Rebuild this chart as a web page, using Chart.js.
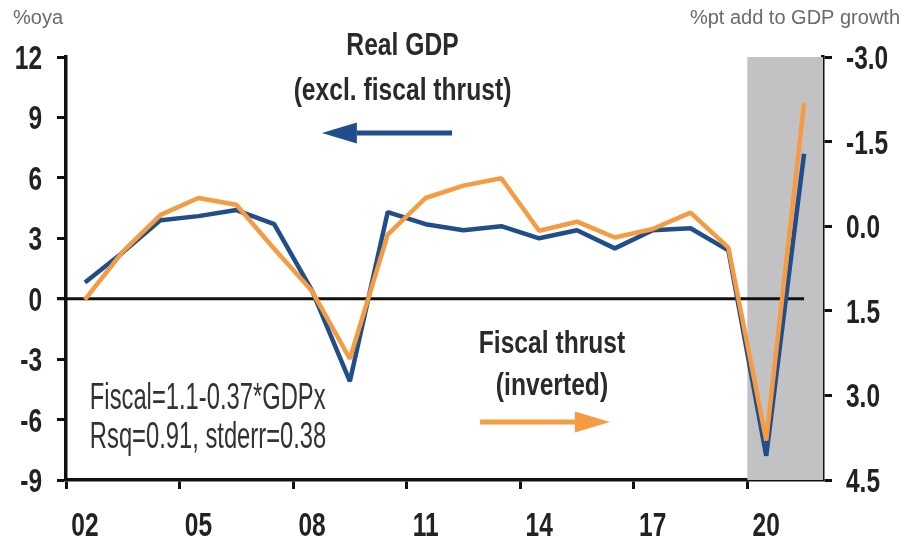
<!DOCTYPE html>
<html lang="en">
<head>
  <meta charset="UTF-8">
  <title>Real GDP vs fiscal thrust</title>
  <style>
    body {
      margin: 0;
      padding: 0;
      background: #ffffff;
    }
    canvas {
      display: block;
    }
  </style>
</head>
<body>
  <canvas id="gdpChart" width="904" height="542"></canvas>

  <script src="https://cdn.jsdelivr.net/npm/chart.js"></script>

  <script>
    // annual data, plotted at mid-year
    const years = [2002, 2003, 2004, 2005, 2006, 2007, 2008, 2009, 2010, 2011,
                   2012, 2013, 2014, 2015, 2016, 2017, 2018, 2019, 2020, 2021];
    // %oya, left axis
    const realGdpExFiscal = [0.8, 2.3, 3.9, 4.1, 4.4, 3.7, 0.4, -4.1, 4.3, 3.7,
                             3.4, 3.6, 3.0, 3.4, 2.5, 3.4, 3.5, 2.4, -7.8, 7.2];
    // %pt add to GDP growth, right axis (inverted)
    const fiscalThrust = [1.3, 0.45, -0.2, -0.5, -0.38, 0.4, 1.15, 2.35, 0.15, -0.5,
                          -0.72, -0.85, 0.08, -0.08, 0.2, 0.05, -0.24, 0.38, 3.8, -2.18];
    const xTickYears = [2002, 2005, 2008, 2011, 2014, 2017, 2020];
    const leftTicks = [-9, -6, -3, 0, 3, 6, 9, 12];
    const rightTicks = [-3.0, -1.5, 0.0, 1.5, 3.0, 4.5];
    const shadeFrom = 2020;

    const BLUE = '#1f4e8a';
    const ORANGE = '#f59b42';
    const SANS = '"Liberation Sans", Arial, sans-serif';

    const toPoints = vals => vals.map((v, i) => ({ x: years[i] + 0.5, y: v }));

    // squeezed text, to get the tall narrow look of the original
    function drawText(ctx, text, x, y, o) {
      ctx.save();
      ctx.translate(x, y);
      ctx.scale(o.sx || 1, 1);
      ctx.font = o.font;
      ctx.fillStyle = o.color || '#222';
      ctx.textAlign = o.align || 'left';
      ctx.textBaseline = 'alphabetic';
      ctx.fillText(text, 0, 0);
      ctx.restore();
    }

    function drawArrow(ctx, x0, y0, x1, y1, color) {
      const dir = Math.sign(x1 - x0);
      const head = 35;
      ctx.strokeStyle = color;
      ctx.fillStyle = color;
      ctx.lineWidth = 5;
      ctx.beginPath();
      ctx.moveTo(x0, y0);
      ctx.lineTo(x1 - dir * head, y1);
      ctx.stroke();
      ctx.beginPath();
      ctx.moveTo(x1, y1);
      ctx.lineTo(x1 - dir * head, y1 - 10.5);
      ctx.lineTo(x1 - dir * head, y1 + 10.5);
      ctx.closePath();
      ctx.fill();
    }

    const tickText = { font: 'bold 34px ' + SANS, sx: 0.72, color: '#222' };

    // shading, zero line, tick labels and text annotations
    const decorations = {
      id: 'decorations',
      beforeDatasetsDraw(chart) {
        const { ctx, chartArea, scales } = chart;
        const x = scales.x, y = scales.y;
        ctx.save();
        const sx = x.getPixelForValue(shadeFrom);
        ctx.fillStyle = '#c2c1c3';
        ctx.fillRect(sx, chartArea.top, chartArea.right - sx, chartArea.bottom - chartArea.top);
        ctx.strokeStyle = '#111';
        ctx.lineWidth = 3;
        ctx.beginPath();
        ctx.moveTo(chartArea.left - 9, y.getPixelForValue(0));
        ctx.lineTo(x.getPixelForValue(years[years.length - 1] + 0.5), y.getPixelForValue(0));
        ctx.stroke();
        ctx.restore();
      },
      afterDraw(chart) {
        const { ctx, chartArea, scales } = chart;
        const px = v => scales.x.getPixelForValue(v);
        const py = v => scales.y.getPixelForValue(v);
        ctx.save();

        // tick labels
        scales.y.ticks.forEach(t => {
          drawText(ctx, String(t.value), chartArea.left - 24, py(t.value) + 12,
                   Object.assign({ align: 'right' }, tickText));
        });
        scales.y2.ticks.forEach(t => {
          drawText(ctx, t.value.toFixed(1), chartArea.right + 23, scales.y2.getPixelForValue(t.value) + 12,
                   Object.assign({ align: 'left' }, tickText));
        });
        scales.x.ticks.forEach(t => {
          drawText(ctx, String(t.value).slice(2), px(t.value + 0.5), chartArea.bottom + 56,
                   Object.assign({ align: 'center' }, tickText));
        });

        // axis unit labels
        drawText(ctx, '%oya', 13, 24, { font: '20px ' + SANS, color: '#6a6a6a' });
        drawText(ctx, '%pt add to GDP growth', chart.width - 4, 24,
                 { font: '20px ' + SANS, color: '#6a6a6a', align: 'right' });

        // series labels
        const bold = { font: 'bold 32px ' + SANS, sx: 0.77, color: '#2a2a2a', align: 'center' };
        drawText(ctx, 'Real GDP', px(2010.89), py(12.1), bold);
        drawText(ctx, '(excl. fiscal thrust)', px(2010.89), py(9.87), bold);
        drawText(ctx, 'Fiscal thrust', px(2014.84), py(-2.69), bold);
        drawText(ctx, '(inverted)', px(2014.84), py(-4.78), bold);

        // regression note
        const note = { font: '36px ' + SANS, sx: 0.66, color: '#333' };
        drawText(ctx, 'Fiscal=1.1-0.37*GDPx', px(2002.63), py(-5.47), note);
        drawText(ctx, 'Rsq=0.91, stderr=0.38', px(2002.63), py(-7.41), note);

        // arrows
        drawArrow(ctx, px(2012.2), py(8.23), px(2008.76), py(8.23), BLUE);
        drawArrow(ctx, px(2012.94), py(-6.12), px(2016.37), py(-6.12), ORANGE);
        ctx.restore();
      }
    };

    const axisGrid = {
      display: true,
      drawOnChartArea: false,
      drawTicks: true,
      tickLength: 9,
      tickWidth: 3,
      color: '#111'
    };
    const axisBorder = { display: true, color: '#111', width: 3.5 };

    new Chart(document.getElementById('gdpChart').getContext('2d'), {
      type: 'line',
      data: {
        datasets: [
          {
            label: 'Fiscal thrust (inverted)',
            data: toPoints(fiscalThrust),
            yAxisID: 'y2',
            borderColor: ORANGE,
            borderWidth: 4.5,
            borderJoinStyle: 'bevel',
            pointRadius: 0,
            tension: 0,
            order: 0
          },
          {
            label: 'Real GDP (excl. fiscal thrust)',
            data: toPoints(realGdpExFiscal),
            yAxisID: 'y',
            borderColor: BLUE,
            borderWidth: 4.5,
            borderJoinStyle: 'bevel',
            pointRadius: 0,
            tension: 0,
            order: 1
          }
        ]
      },
      options: {
        responsive: false,
        animation: false,
        layout: { padding: { top: 57, left: 0, right: 0, bottom: 0 } },
        plugins: {
          legend: { display: false },
          tooltip: { enabled: false }
        },
        scales: {
          x: {
            type: 'linear',
            position: 'bottom',
            min: 2002,
            max: 2022,
            afterBuildTicks: s => { s.ticks = xTickYears.map(v => ({ value: v })); },
            afterFit: s => { s.height = 62; },
            ticks: { display: false },
            grid: axisGrid,
            border: axisBorder
          },
          y: {
            position: 'left',
            min: -9,
            max: 12,
            afterBuildTicks: s => { s.ticks = leftTicks.map(v => ({ value: v })); },
            afterFit: s => { s.width = 66; },
            ticks: { display: false },
            grid: axisGrid,
            border: axisBorder
          },
          y2: {
            position: 'right',
            reverse: true,
            min: -3,
            max: 4.5,
            afterBuildTicks: s => { s.ticks = rightTicks.map(v => ({ value: v })); },
            afterFit: s => { s.width = 81; },
            ticks: { display: false },
            grid: axisGrid,
            border: axisBorder
          }
        }
      },
      plugins: [decorations]
    });
  </script>
</body>
</html>
